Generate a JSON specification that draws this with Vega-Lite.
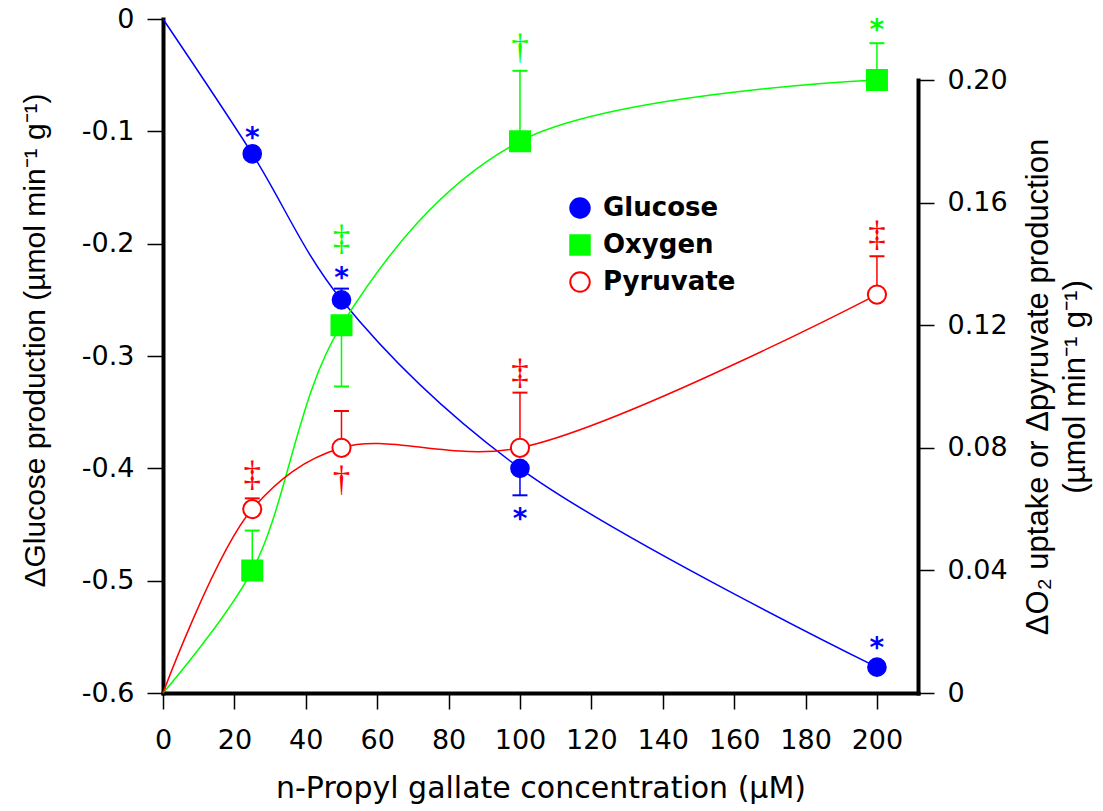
{
  "$schema": "https://vega.github.io/schema/vega-lite/v6.json",
  "width": 755,
  "height": 674,
  "autosize": {"type": "none"},
  "padding": {"left": 163, "top": 19, "right": 185, "bottom": 118},
  "background": "white",
  "config": {
    "view": {"stroke": null},
    "axis": {"grid": false, "domainColor": "black", "domainWidth": 4, "domainCap": "square", "tickColor": "black", "tickWidth": 1.5, "tickSize": 16, "labelFont": "DejaVu Sans", "labelFontSize": 27, "labelColor": "black", "labelPadding": 13, "labelFlush": false, "labelOverlap": false, "titleColor": "black", "titleFontWeight": "normal"},
    "axisX": {"labelPadding": 18, "titleFont": "DejaVu Sans", "titleFontSize": 30, "titlePadding": 20},
    "axisY": {"titleFont": "Liberation Sans", "titleFontSize": 31}
  },
  "datasets": {
    "meas": [
      {"series": "Glucose", "x": 0, "value": 0, "err": null},
      {"series": "Glucose", "x": 25, "value": -0.120, "err": null},
      {"series": "Glucose", "x": 50, "value": -0.250, "err": -0.240},
      {"series": "Glucose", "x": 100, "value": -0.400, "err": -0.424},
      {"series": "Glucose", "x": 200, "value": -0.577, "err": null},
      {"series": "Oxygen", "x": 0, "value": 0, "err": null},
      {"series": "Oxygen", "x": 25, "value": 0.040, "err": 0.053},
      {"series": "Oxygen", "x": 50, "value": 0.120, "err": 0.100},
      {"series": "Oxygen", "x": 100, "value": 0.180, "err": 0.203},
      {"series": "Oxygen", "x": 200, "value": 0.200, "err": 0.212},
      {"series": "Pyruvate", "x": 0, "value": 0, "err": null},
      {"series": "Pyruvate", "x": 25, "value": 0.060, "err": 0.0635},
      {"series": "Pyruvate", "x": 50, "value": 0.080, "err": 0.092},
      {"series": "Pyruvate", "x": 100, "value": 0.080, "err": 0.098},
      {"series": "Pyruvate", "x": 200, "value": 0.130, "err": 0.1425}
    ],
    "ann": [
      {"series": "Glucose", "x": 25, "sym": "*", "pos": -0.1015},
      {"series": "Glucose", "x": 50, "sym": "*", "pos": -0.226},
      {"series": "Glucose", "x": 100, "sym": "*", "pos": -0.441},
      {"series": "Glucose", "x": 200, "sym": "*", "pos": -0.5555},
      {"series": "Oxygen", "x": 50, "sym": "‡", "pos": 0.148},
      {"series": "Oxygen", "x": 100, "sym": "†", "pos": 0.2105},
      {"series": "Oxygen", "x": 200, "sym": "*", "pos": 0.218},
      {"series": "Pyruvate", "x": 25, "sym": "‡", "pos": 0.071},
      {"series": "Pyruvate", "x": 50, "sym": "†", "pos": 0.0695},
      {"series": "Pyruvate", "x": 100, "sym": "‡", "pos": 0.1045},
      {"series": "Pyruvate", "x": 200, "sym": "‡", "pos": 0.1495}
    ]
  },
  "encoding": {
    "x": {"field": "x", "type": "quantitative", "scale": {"domain": [0, 211.5], "nice": false, "zero": false},
      "axis": {"values": [0, 20, 40, 60, 80, 100, 120, 140, 160, 180, 200], "format": "d", "title": "n-Propyl gallate concentration (µM)"}},
    "color": {"field": "series", "type": "nominal", "scale": {"domain": ["Pyruvate", "Oxygen", "Glucose"], "range": ["#ff0000", "#00ff00", "#0000ff"]}, "legend": null}
  },
  "layer": [
    {"data": {"name": "meas"}, "transform": [{"filter": "datum.series === 'Glucose'"}],
      "mark": {"type": "line", "interpolate": "catmull-rom", "strokeWidth": 1.5},
      "encoding": {
        "y": {"field": "value", "type": "quantitative", "scale": {"domain": [-0.6, 0], "nice": false, "zero": false},
          "axis": {"orient": "left", "values": [-0.6, -0.5, -0.4, -0.3, -0.2, -0.1, 0], "labelExpr": "datum.value == 0 ? '0' : '-' + format(-datum.value, '.1f')", "title": "ΔGlucose production (µmol min⁻¹ g⁻¹)", "titleFontSize": 30, "titlePadding": 32, "titleX": -113, "titleY": 321}}}},
    {"data": {"name": "meas"}, "transform": [{"filter": "datum.series === 'Glucose' && datum.err != null"}],
      "mark": {"type": "rule", "strokeWidth": 1.5},
      "encoding": {
        "y": {"field": "value", "type": "quantitative", "scale": {"domain": [-0.6, 0], "nice": false, "zero": false}, "axis": null},
        "y2": {"field": "err"}}},
    {"data": {"name": "meas"}, "transform": [{"filter": "datum.series === 'Glucose' && datum.err != null"}],
      "mark": {"type": "tick", "orient": "horizontal", "size": 15, "thickness": 2, "opacity": 1},
      "encoding": {
        "y": {"field": "err", "type": "quantitative", "scale": {"domain": [-0.6, 0], "nice": false, "zero": false}, "axis": null}}},
    {"data": {"name": "meas"}, "transform": [{"filter": "datum.series !== 'Glucose'"}],
      "mark": {"type": "line", "interpolate": "catmull-rom", "strokeWidth": 1.5},
      "encoding": {
        "y": {"field": "value", "type": "quantitative", "scale": {"domain": [0, 0.2], "range": [674, 61], "nice": false, "zero": false},
          "axis": {"orient": "right", "values": [0, 0.04, 0.08, 0.12, 0.16, 0.2], "labelExpr": "datum.value == 0 ? '0' : format(datum.value, '.2f')", "title": ["ΔO₂ uptake or Δpyruvate production", "(µmol min⁻¹ g⁻¹)"], "titleAngle": 270, "titleLineHeight": 37, "titlePadding": 10}}}},
    {"data": {"name": "meas"}, "transform": [{"filter": "datum.series !== 'Glucose' && datum.err != null"}],
      "mark": {"type": "rule", "strokeWidth": 1.5},
      "encoding": {
        "y": {"field": "value", "type": "quantitative", "scale": {"domain": [0, 0.2], "range": [674, 61], "nice": false, "zero": false}, "axis": null},
        "y2": {"field": "err"}}},
    {"data": {"name": "meas"}, "transform": [{"filter": "datum.series !== 'Glucose' && datum.err != null"}],
      "mark": {"type": "tick", "orient": "horizontal", "size": 15, "thickness": 2, "opacity": 1},
      "encoding": {
        "y": {"field": "err", "type": "quantitative", "scale": {"domain": [0, 0.2], "range": [674, 61], "nice": false, "zero": false}, "axis": null}}},
    {"data": {"name": "meas"}, "transform": [{"filter": "datum.series === 'Glucose' && datum.x > 0"}],
      "mark": {"type": "point", "size": 330, "strokeWidth": 1.5, "opacity": 1},
      "encoding": {
        "y": {"field": "value", "type": "quantitative", "scale": {"domain": [-0.6, 0], "nice": false, "zero": false}, "axis": null},
        "fill": {"field": "series", "type": "nominal", "scale": {"domain": ["Glucose", "Oxygen", "Pyruvate"], "range": ["#0000ff", "#00ff00", "#ffffff"]},
          "legend": {"orient": "none", "legendX": 404, "legendY": 176, "title": null, "padding": 0, "symbolSize": 380, "symbolStrokeWidth": 2, "labelFont": "DejaVu Sans", "labelFontSize": 26, "labelFontWeight": "bold", "labelOffset": 10, "rowPadding": 9,
            "encode": {
              "labels": {"update": {"fill": {"signal": "datum.value === 'Glucose' ? '#0000ff' : datum.value === 'Oxygen' ? '#00ff00' : '#ff0000'"}}},
              "symbols": {"update": {"strokeWidth": {"value": 2}, "opacity": {"value": 1}}}
            }}},
        "stroke": {"field": "series", "type": "nominal", "scale": {"domain": ["Glucose", "Oxygen", "Pyruvate"], "range": ["#0000ff", "#00ff00", "#ff0000"]}},
        "shape": {"field": "series", "type": "nominal", "scale": {"domain": ["Glucose", "Oxygen", "Pyruvate"], "range": ["circle", "square", "circle"]}}}},
    {"data": {"name": "meas"}, "transform": [{"filter": "datum.series === 'Oxygen' && datum.x > 0"}],
      "mark": {"type": "point", "size": 420, "strokeWidth": 1.5, "opacity": 1},
      "encoding": {
        "y": {"field": "value", "type": "quantitative", "scale": {"domain": [0, 0.2], "range": [674, 61], "nice": false, "zero": false}, "axis": null},
        "fill": {"field": "series", "type": "nominal", "scale": {"domain": ["Glucose", "Oxygen", "Pyruvate"], "range": ["#0000ff", "#00ff00", "#ffffff"]}},
        "stroke": {"field": "series", "type": "nominal", "scale": {"domain": ["Glucose", "Oxygen", "Pyruvate"], "range": ["#0000ff", "#00ff00", "#ff0000"]}},
        "shape": {"field": "series", "type": "nominal", "scale": {"domain": ["Glucose", "Oxygen", "Pyruvate"], "range": ["circle", "square", "circle"]}}}},
    {"data": {"name": "meas"}, "transform": [{"filter": "datum.series === 'Pyruvate' && datum.x > 0"}],
      "mark": {"type": "point", "size": 330, "strokeWidth": 2, "opacity": 1},
      "encoding": {
        "y": {"field": "value", "type": "quantitative", "scale": {"domain": [0, 0.2], "range": [674, 61], "nice": false, "zero": false}, "axis": null},
        "fill": {"field": "series", "type": "nominal", "scale": {"domain": ["Glucose", "Oxygen", "Pyruvate"], "range": ["#0000ff", "#00ff00", "#ffffff"]}},
        "stroke": {"field": "series", "type": "nominal", "scale": {"domain": ["Glucose", "Oxygen", "Pyruvate"], "range": ["#0000ff", "#00ff00", "#ff0000"]}},
        "shape": {"field": "series", "type": "nominal", "scale": {"domain": ["Glucose", "Oxygen", "Pyruvate"], "range": ["circle", "square", "circle"]}}}},
    {"data": {"name": "ann"}, "transform": [{"filter": "datum.series === 'Glucose'"}],
      "mark": {"type": "text", "font": "DejaVu Sans", "fontWeight": "bold", "fontSize": 28, "baseline": "middle", "dy": 6},
      "encoding": {
        "y": {"field": "pos", "type": "quantitative", "scale": {"domain": [-0.6, 0], "nice": false, "zero": false}, "axis": null},
        "text": {"field": "sym"}}},
    {"data": {"name": "ann"}, "transform": [{"filter": "datum.series !== 'Glucose' && datum.sym === '*'"}],
      "mark": {"type": "text", "font": "DejaVu Sans", "fontWeight": "bold", "fontSize": 28, "baseline": "middle", "dy": 6},
      "encoding": {
        "y": {"field": "pos", "type": "quantitative", "scale": {"domain": [0, 0.2], "range": [674, 61], "nice": false, "zero": false}, "axis": null},
        "text": {"field": "sym"}}},
    {"data": {"name": "ann"}, "transform": [{"filter": "datum.series !== 'Glucose' && datum.sym !== '*'"}],
      "mark": {"type": "text", "font": "Liberation Serif", "fontSize": 35, "baseline": "middle"},
      "encoding": {
        "y": {"field": "pos", "type": "quantitative", "scale": {"domain": [0, 0.2], "range": [674, 61], "nice": false, "zero": false}, "axis": null},
        "text": {"field": "sym"}}}
  ],
  "resolve": {"scale": {"y": "independent"}}
}
